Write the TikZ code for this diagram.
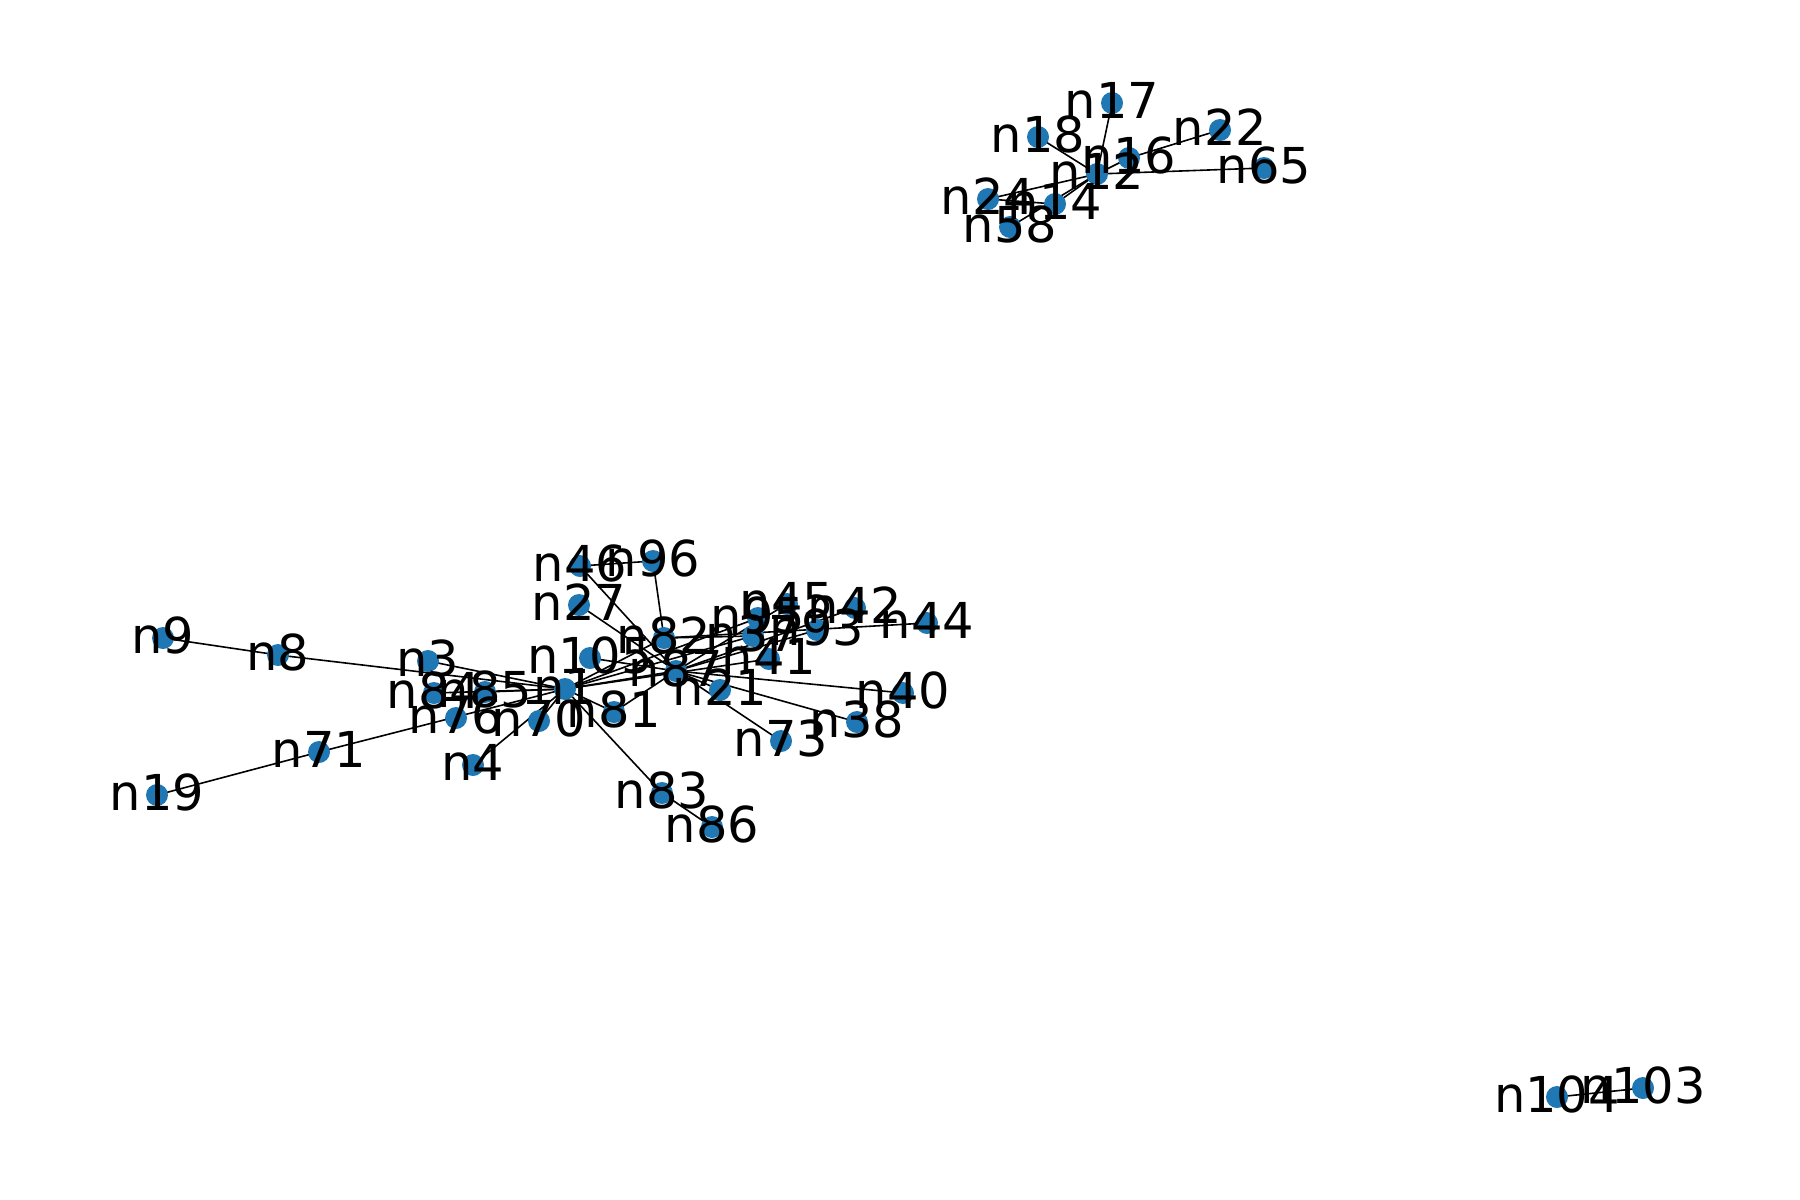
\documentclass[tikz,border=0pt]{standalone}
\usepackage{fontspec}
\setmainfont{DejaVu Sans}
\pgfdeclarelayer{bg}
\pgfsetlayers{bg,main}
\definecolor{nodeblue}{HTML}{1F77B4}
\begin{document}
\begin{tikzpicture}[x=1pt,y=-1pt,
  dot/.style={circle,fill=nodeblue,draw=none,inner sep=0pt,minimum size=22pt},
  lab/.style={font=\fontsize{49.5}{55}\selectfont,inner sep=0pt,yshift=3pt,text=black},
  edge/.style={draw=black,line width=1.6pt}]
\useasboundingbox (0,0) rectangle (1800,1200);
\def\nodelist{n17/1112/103, n18/1038/137, n16/1129/158, n22/1220/130, n12/1097/174,
  n65/1264/168, n24/988/199, n14/1055/204, n58/1010/227, n104/1557/1097, n103/1643/1088,
  n9/163/638, n8/278/655, n3/428/661, n84/434/693, n85/485/692, n1/565/689, n76/456/718,
  n70/539/721, n71/319/752, n19/157/795, n4/473/765, n81/614/712, n83/662/793, n86/712/827,
  n46/580/566, n96/653/561, n27/579/605, n82/664/638, n105/590/658, n87/676/671,
  n21/720/690, n73/781/741, n38/857/722, n40/903/693, n41/769/659, n37/753/636,
  n95/758/618, n45/787/604, n93/817/630, n42/855/608, n44/927/623}
\foreach \n/\x/\y in \nodelist { \node[dot] (\n) at (\x,\y) {}; }
\begin{pgfonlayer}{bg}
\foreach \a/\b in {n12/n18, n12/n17, n12/n16, n16/n22, n12/n65, n12/n24, n12/n14, n12/n58, n24/n14,
  n104/n103,
  n9/n8, n8/n1, n3/n1, n84/n1, n85/n1, n19/n71, n71/n1, n70/n1, n4/n1, n1/n83, n83/n86,
  n1/n81, n1/n87, n1/n37, n1/n41, n1/n95, n1/n82, n46/n96, n96/n82, n46/n87, n27/n87,
  n105/n87, n81/n87, n87/n21, n87/n73, n87/n38, n87/n40, n87/n93, n87/n45, n87/n42,
  n82/n37, n82/n44}
  { \draw[edge] (\a.center) -- (\b.center); }
\end{pgfonlayer}
\foreach \n/\x/\y in \nodelist { \node[lab] (l\n) at (\x,\y) {\n}; }
\end{tikzpicture}
\end{document}
